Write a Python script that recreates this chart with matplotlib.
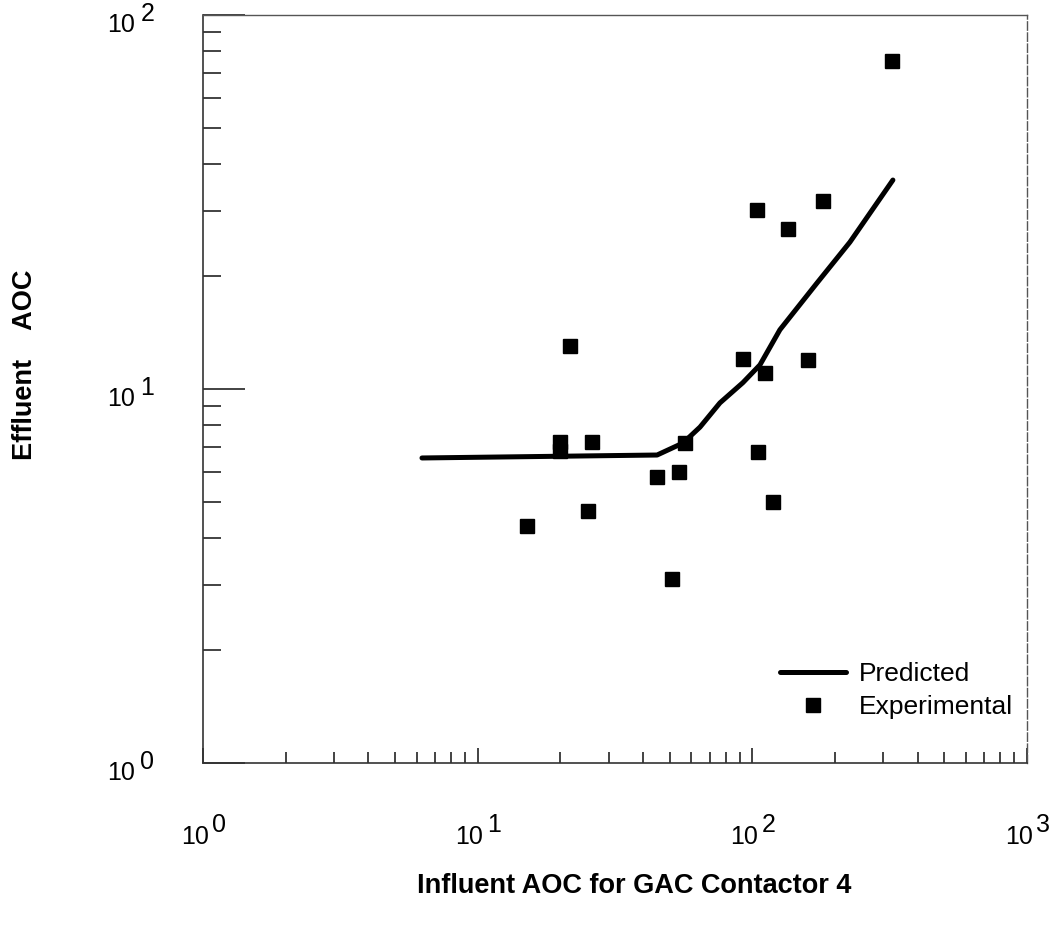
import matplotlib
matplotlib.use("Agg")
import matplotlib.pyplot as plt

plt.rcParams["font.family"] = ["Liberation Sans", "DejaVu Sans"]

# Measured influent / effluent AOC for GAC contactor 4
influent_exp = [15.1, 19.9, 19.9, 21.7, 26.1, 25.2, 45.0, 51.0, 54.1, 56.8,
                92.4, 103.9, 104.8, 111.1, 118.9, 134.8, 159.3, 180.7, 322.3]
effluent_exp = [4.30, 7.22, 6.83, 13.0, 7.22, 4.72, 5.82, 3.10, 6.00, 7.17,
                12.03, 30.1, 6.78, 11.03, 4.99, 26.8, 11.96, 31.8, 75.3]

# Model prediction
influent_pred = [6.27, 45.0, 55.9, 64.5, 76.2, 92.4, 106.6, 126.0, 171.9, 226.6, 324.9]
effluent_pred = [6.54, 6.66, 7.17, 7.91, 9.18, 10.4, 11.6, 14.4, 19.2, 24.7, 36.2]

decades = [1, 10, 100, 1000]
exponents = ["0", "1", "2", "3"]

fig = plt.figure(figsize=(10.55, 9.32), dpi=100)
ax = fig.add_axes([203 / 1055, 1 - 763 / 932, 824 / 1055, 748 / 932])
ax.set_xscale("log")
ax.set_yscale("log")
ax.set_xlim(1, 1000)
ax.set_ylim(1, 100)

ax.plot(influent_pred, effluent_pred, color="black", lw=3.6,
        solid_capstyle="round", solid_joinstyle="round", label="Predicted")
ax.plot(influent_exp, effluent_exp, ls="none", marker="s", ms=9.5,
        color="black", label="Experimental")

# ticks point inward, no labels from the axis itself
ax.tick_params(which="both", direction="in", top=False, right=False,
               labelbottom=False, labelleft=False, color="#222222")
ax.tick_params(axis="x", which="major", length=11, width=1.2)
ax.tick_params(axis="x", which="minor", length=8, width=1.2)
ax.tick_params(axis="y", which="major", length=30, width=1.2)
ax.tick_params(axis="y", which="minor", length=13, width=1.2)

for side in ("left", "bottom"):
    ax.spines[side].set_color("#333333")
    ax.spines[side].set_linewidth(1.2)
ax.spines["top"].set_color("#555555")
ax.spines["top"].set_linewidth(1.0)
ax.spines["right"].set_color("#555555")
ax.spines["right"].set_linewidth(1.0)
ax.spines["right"].set_linestyle((0, (6, 2)))

# decade labels drawn as "10" with a full-size raised exponent
lab_fs = 18
for v, e in zip(decades, exponents):
    ax.annotate("10", xy=(v, 0), xycoords=("data", "axes fraction"),
                xytext=(-6, -53), textcoords="offset points",
                ha="center", va="center", fontsize=lab_fs)
    ax.annotate(e, xy=(v, 0), xycoords=("data", "axes fraction"),
                xytext=(11.5, -45), textcoords="offset points",
                ha="center", va="center", fontsize=lab_fs)
for v, e in zip(decades[:3], exponents[:3]):
    ax.annotate("10", xy=(0, v), xycoords=("axes fraction", "data"),
                xytext=(-59, -7), textcoords="offset points",
                ha="center", va="center", fontsize=lab_fs)
    ax.annotate(e, xy=(0, v), xycoords=("axes fraction", "data"),
                xytext=(-40, 1), textcoords="offset points",
                ha="center", va="center", fontsize=lab_fs)

fig.text(634 / 1055, 1 - 886 / 932, "Influent AOC for GAC Contactor 4",
         ha="center", va="center", fontsize=19.5, fontweight="bold")
fig.text(25 / 1055, 1 - 365 / 932, "Effluent    AOC", rotation=90,
         ha="center", va="center", fontsize=19.5, fontweight="bold")

ax.legend(loc="upper left", bbox_to_anchor=((780 - 203) / 824, (763 - 662) / 748),
          frameon=False, fontsize=19, handlelength=2.5, handletextpad=0.5,
          labelspacing=0.35, borderaxespad=0, borderpad=0, markerscale=1.0)

fig.savefig("out.png", dpi=100)
